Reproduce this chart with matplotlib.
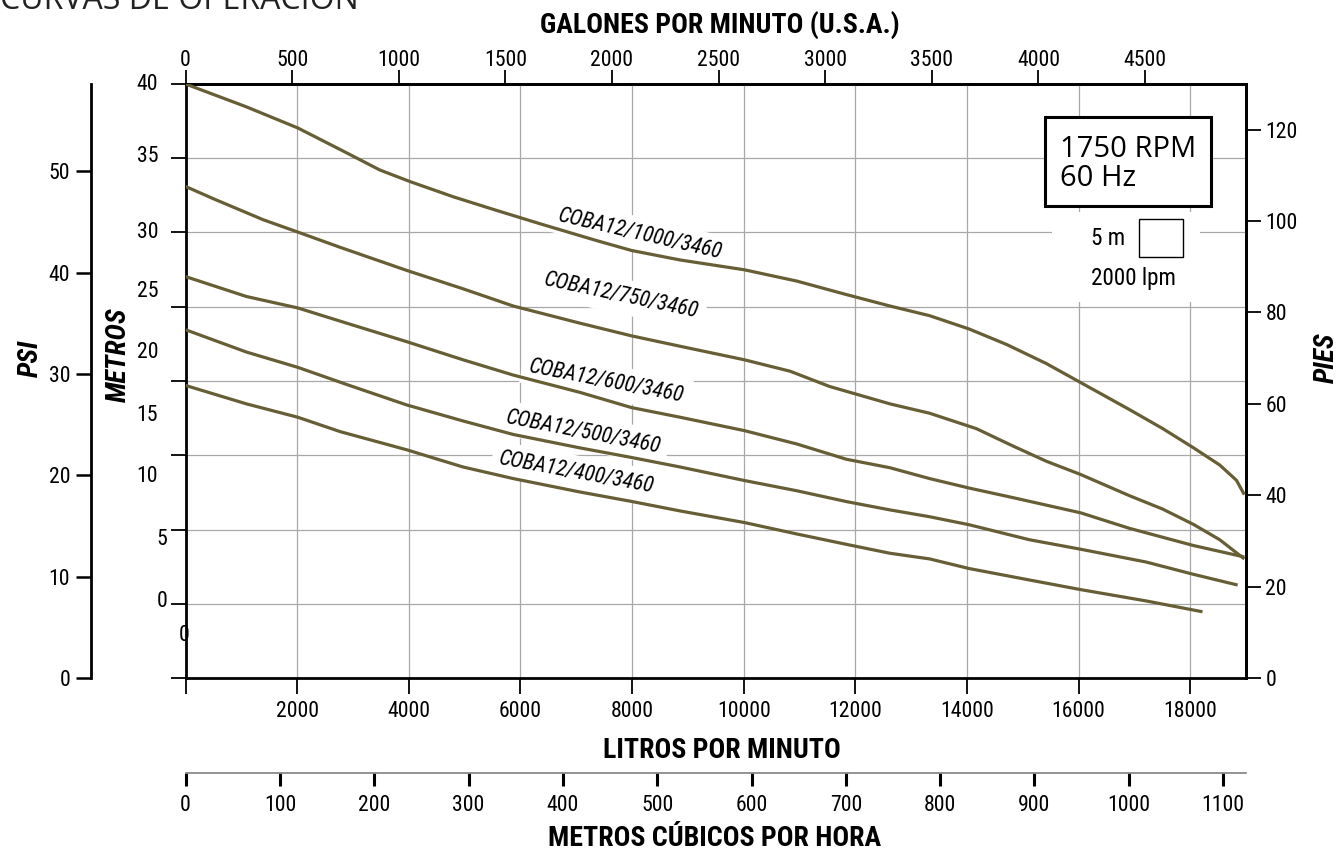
import os
import matplotlib
matplotlib.use("Agg")
import matplotlib.pyplot as plt
from matplotlib import font_manager
from matplotlib.font_manager import FontProperties
from matplotlib.patches import Rectangle
from matplotlib.transforms import blended_transform_factory

# flow in litres per minute, head in metres
lpm_1000 = [0, 1090, 2010, 2820, 3480, 4020, 4800, 5570, 6350, 7360, 7990, 8860, 10010, 10950,
            11840, 12620, 13330, 14040, 14710, 15420, 16040, 16910, 17510, 18060, 18530, 18830, 18970]
m_1000 = [40.0, 38.46, 37.04, 35.49, 34.21, 33.43, 32.40, 31.49, 30.59, 29.46, 28.79, 28.15, 27.49, 26.73,
          25.82, 25.05, 24.40, 23.50, 22.46, 21.18, 19.89, 18.08, 16.79, 15.50, 14.34, 13.31, 12.35]

lpm_750 = [0, 500, 1390, 2010, 2770, 3960, 4970, 5870, 7060, 7990, 8860, 10010, 10830, 11540,
           12620, 13330, 14170, 14820, 15420, 16040, 16910, 17510, 18060, 18530, 18970]
m_750 = [33.10, 32.27, 30.86, 30.03, 29.00, 27.45, 26.21, 25.05, 23.90, 23.04, 22.34, 21.43, 20.66, 19.63,
         18.46, 17.83, 16.79, 15.63, 14.60, 13.70, 12.28, 11.37, 10.34, 9.31, 8.02]

lpm_600 = [0, 1090, 2010, 2890, 3960, 4970, 5870, 7060, 7990, 8860, 10010, 10950, 11840, 12620,
           13330, 14040, 14820, 16040, 16910, 18060, 18970]
m_600 = [27.03, 25.69, 24.92, 23.89, 22.65, 21.43, 20.40, 19.24, 18.21, 17.56, 16.66, 15.76, 14.73, 14.16,
         13.43, 12.79, 12.15, 11.12, 10.08, 8.92, 8.15]

lpm_500 = [0, 1090, 2010, 2890, 3960, 4970, 5870, 7060, 7990, 8860, 10010, 10950, 11840, 12620,
           13330, 14040, 15120, 16040, 17210, 18060, 18850]
m_500 = [23.45, 21.95, 20.92, 19.76, 18.39, 17.31, 16.40, 15.50, 14.85, 14.21, 13.30, 12.61, 11.88, 11.32,
         10.86, 10.32, 9.31, 8.67, 7.81, 6.98, 6.26]

lpm_400 = [0, 1090, 2010, 2770, 3960, 4970, 5870, 7060, 7990, 8860, 10010, 10950, 11840, 12620,
           13330, 14040, 15120, 16040, 17210, 18220]
m_400 = [19.70, 18.46, 17.56, 16.59, 15.37, 14.21, 13.43, 12.53, 11.89, 11.25, 10.47, 9.70, 9.00, 8.40,
         8.02, 7.37, 6.60, 5.95, 5.19, 4.46]

curve_names = ["COBA12/1000/3460", "COBA12/750/3460", "COBA12/600/3460",
               "COBA12/500/3460", "COBA12/400/3460"]
curves = [(lpm_1000, m_1000), (lpm_750, m_750), (lpm_600, m_600), (lpm_500, m_500), (lpm_400, m_400)]

# where the model names sit (lpm, metres) and their slant
name_lpm = [8140, 7810, 7540, 7135, 7000]
name_m = [29.85, 25.7, 19.95, 16.5, 13.8]
name_angle = [-13, -12, -11, -11, -10.5]

lpm_ticks = list(range(0, 18001, 2000))
gpm_ticks = list(range(0, 4501, 500))
m3h_ticks = list(range(0, 1101, 100))
ft_ticks = list(range(0, 121, 20))
psi_ticks = list(range(0, 51, 10))
# the sheet prints its metre labels a little off the grid, keep that
metros_labels = ["40", "35", "30", "25", "20", "15", "10", "5", "0", "0"]
metros_label_pos = [40.0, 35.15, 30.03, 26.0, 21.9, 17.7, 13.6, 9.36, 5.12, 2.83]
metros_label_x = [158, 158, 158, 158, 158, 158, 158, 167, 167, 190]

# scale factors as drawn on the sheet
GPM_F = 3.82
M3H_F = 16.9
FT_F = 3.25
PSI_F = 1.465

# look for a narrow face, the sheet uses a condensed sans
all_files = {os.path.basename(f.fname).lower(): f.fname for f in font_manager.fontManager.ttflist}
for f in font_manager.findSystemFonts():
    all_files.setdefault(os.path.basename(f).lower(), f)

narrow_sets = [
    (["liberationsansnarrow-regular.ttf", "liberationsansnarrow-bold.ttf",
      "liberationsansnarrow-italic.ttf", "liberationsansnarrow-bolditalic.ttf"], 1.0),
    (["notosans-condensed.ttf", "notosans-condensedbold.ttf",
      "notosans-condenseditalic.ttf", "notosans-condensedbolditalic.ttf"], 0.98),
    (["robotocondensed-regular.ttf", "robotocondensed-bold.ttf",
      "robotocondensed-italic.ttf", "robotocondensed-bolditalic.ttf"], 0.98),
    (["dejavusanscondensed.ttf", "dejavusanscondensed-bold.ttf",
      "dejavusanscondensed-oblique.ttf", "dejavusanscondensed-boldoblique.ttf"], 0.8),
]
FP = None
for names, k in narrow_sets:
    if all(n in all_files for n in names):
        FP = [FontProperties(fname=all_files[n]) for n in names]
        SCALE = k
        break
if FP is None:
    FP = [FontProperties(family="Roboto", weight=w, style=s)
          for w, s in [("normal", "normal"), ("bold", "normal"), ("normal", "italic"), ("bold", "italic")]]
    SCALE = 0.82
REG, BOLD, ITAL, BOLDITAL = FP


def sized(fp, size):
    p = fp.copy()
    p.set_size(size * SCALE)
    return p


LINE = "#675e35"
GRID = "#a8a8a8"
W, H = 1344, 851


def fx(px):
    return px / W


def fy(py):
    return 1 - py / H


fig = plt.figure(figsize=(W / 100, H / 100), dpi=100)
ax = fig.add_axes([fx(185.6), fy(678), (1246 - 185.6) / W, (678 - 84) / H])
ax.set_xlim(0, 19000)
ax.set_ylim(0, 40)

for (lpm, m), name, nx, ny, ang in zip(curves, curve_names, name_lpm, name_m, name_angle):
    ax.plot(lpm, m, color=LINE, lw=2.3, zorder=3, solid_capstyle="butt", solid_joinstyle="round")
    ax.text(nx, ny, name, rotation=ang, rotation_mode="anchor", ha="center", va="center",
            fontproperties=sized(ITAL, 16), zorder=2,
            bbox=dict(facecolor="white", edgecolor="none", pad=5))

ax.set_xticks(lpm_ticks)
ax.set_xticklabels([""] + [str(v) for v in lpm_ticks[1:]])
ax.set_yticks(range(0, 41, 5))
ax.set_yticklabels([])
ax.tick_params(axis="x", direction="out", length=11.5, width=1.3, pad=5)
ax.tick_params(axis="y", direction="out", length=11, width=1.3)
ax.grid(True, color=GRID, lw=0.9)
ax.set_axisbelow(True)
for s in ax.spines.values():
    s.set_linewidth(2)

# white patches that break the grid behind the rpm note and scale key
ax.add_patch(Rectangle((0.817, 0.633), 0.14, 0.152, transform=ax.transAxes,
                       facecolor="white", edgecolor="none", zorder=1))
ax.add_patch(Rectangle((0.8105, 0.795), 0.1565, 0.149, transform=ax.transAxes,
                       facecolor="white", edgecolor="black", lw=2.2, zorder=4))
ax.text(0.8247, 0.8657, "1750 RPM\n60 Hz", transform=ax.transAxes, ha="left", va="center",
        fontsize=21, family="Open Sans", linespacing=1.0, zorder=5)
ax.add_patch(Rectangle((0.899, 0.7093), 0.0419, 0.0634, transform=ax.transAxes,
                       facecolor="white", edgecolor="black", lw=1.0, zorder=4))
ax.text(0.8699, 0.7402, "5 m", transform=ax.transAxes, ha="center", va="center",
        fontproperties=sized(REG, 17), zorder=5)
ax.text(0.8935, 0.6729, "2000 lpm", transform=ax.transAxes, ha="center", va="center",
        fontproperties=sized(REG, 17), zorder=5)

# metre labels as printed
btrans = blended_transform_factory(fig.transFigure, ax.transData)
for lab, yv, xp in zip(metros_labels, metros_label_pos, metros_label_x):
    ha = "center" if xp > 185 else "right"
    ax.text(fx(xp if xp < 185 else 184), yv, lab, transform=btrans, ha=ha, va="center",
            fontproperties=sized(REG, 16), clip_on=False)

# top: US gallons per minute
top = ax.secondary_xaxis("top", functions=(lambda x: x / GPM_F, lambda g: g * GPM_F))
top.set_xticks(gpm_ticks)
top.tick_params(length=10, width=1.3, pad=-0.5)
top.spines["top"].set_linewidth(2)

# bottom: cubic metres per hour
m3h = ax.secondary_xaxis(-0.16, functions=(lambda x: x / M3H_F, lambda q: q * M3H_F))
m3h.set_xticks(m3h_ticks)
m3h.tick_params(length=9, width=2.2, pad=7)
m3h.spines["bottom"].set_color("#808080")
m3h.spines["bottom"].set_linewidth(1.2)

# right: feet
pies = ax.secondary_yaxis("right", functions=(lambda m: m * FT_F, lambda f: f / FT_F))
pies.set_yticks(ft_ticks)
pies.tick_params(length=11, width=1.3, pad=3)
pies.spines["right"].set_linewidth(2)

# far left: psi
psi = ax.secondary_yaxis(-0.0892, functions=(lambda m: m * PSI_F, lambda p: p / PSI_F))
psi.set_yticks(psi_ticks)
psi.tick_params(length=11, width=1.8, pad=4)
psi.spines["left"].set_linewidth(2)

fig.text(fx(720), fy(25), "GALONES POR MINUTO (U.S.A.)", ha="center", va="center",
         fontproperties=sized(BOLD, 20.5))
fig.text(fx(722), fy(750), "LITROS POR MINUTO", ha="center", va="center",
         fontproperties=sized(BOLD, 20.5))
fig.text(fx(715), fy(838), "METROS CÚBICOS POR HORA", ha="center", va="center",
         fontproperties=sized(BOLD, 20.5))
fig.text(fx(30), fy(358), "PSI", rotation=90, ha="center", va="center",
         fontproperties=sized(BOLDITAL, 20.5))
fig.text(fx(118), fy(355), "METROS", rotation=90, ha="center", va="center",
         fontproperties=sized(BOLDITAL, 20.5))
fig.text(fx(1326), fy(358), "PIES", rotation=90, ha="center", va="center",
         fontproperties=sized(BOLDITAL, 20.5))
fig.text(0, fy(9), "CURVAS DE OPERACIÓN", ha="left", va="baseline", fontsize=23,
         family="Open Sans", color="#222222")

# tick labels in the narrow face, applied once the ticks exist
fig.canvas.draw()
tick_fp = sized(REG, 16)
for axis in [ax.xaxis, top.xaxis, m3h.xaxis, pies.yaxis, psi.yaxis]:
    for lbl in axis.get_majorticklabels():
        lbl.set_fontproperties(tick_fp)

fig.savefig("out.png", dpi=100)
